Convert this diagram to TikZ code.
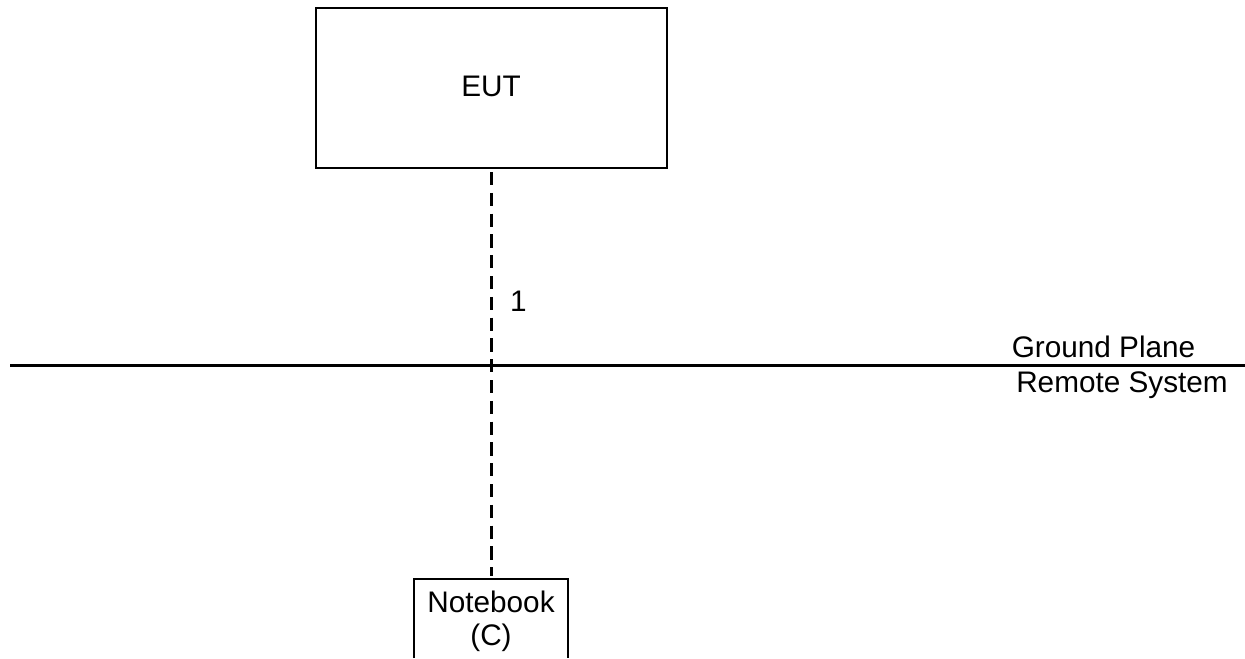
\documentclass[tikz,border=0pt]{standalone}
\usepackage{fontspec}
\setmainfont{Liberation Sans}
\begin{document}
\begin{tikzpicture}[x=0.75pt,y=-0.75pt,
  lbl/.style={inner sep=0pt,font=\fontsize{22.3}{26}\selectfont,align=center,text=black},
  box/.style={draw=black,line width=1.5pt,fill=white,inner sep=0pt}]
\useasboundingbox[fill=white] (0,0) rectangle (1245,658);
\node[box,minimum width=263.25pt,minimum height=120pt,anchor=north west] (eut) at (315,6.5) {};
\node[lbl] (eutl) at (491,86) {EUT};
\coordinate (gl) at (10,365.5);
\coordinate (gr) at (1245,365.5);
\draw[line width=2.25pt] (gl) -- (gr);
\coordinate (nbt) at (491.5,576);
\coordinate (cs) at (491.5,172);
\draw[line width=2.25pt,dash pattern=on 9.9pt off 5.7pt] (cs) -- (nbt);
\draw[line width=1.5pt] (414,658) -- (414,579) -- (568,579) -- (568,658);
\node[lbl] (nb) at (491,621.5) {Notebook\\[-1pt](C)};
\node[lbl] (one) at (518.5,301) {1};
\node[lbl] (gp) at (1103.5,347) {Ground Plane};
\node[lbl] (rs) at (1122,385) {Remote System};
\end{tikzpicture}
\end{document}
